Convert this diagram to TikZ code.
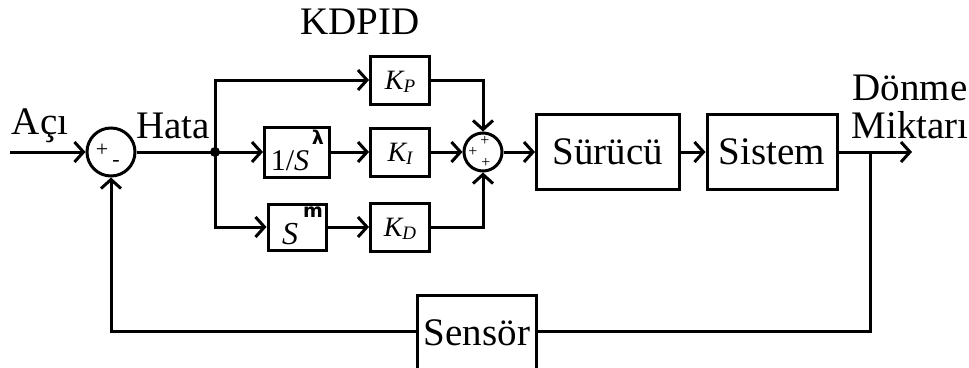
\documentclass[tikz,border=0pt]{standalone}
\usepackage{fontspec}
\setmainfont{Liberation Serif}
\newfontfamily\supfont{DejaVu Sans}
\usetikzlibrary{arrows.meta}
\begin{document}
\begin{tikzpicture}[x=1pt,y=-1pt,
  line width=3pt,
  arr/.style={-{Straight Barb[length=9pt,width=20pt,line width=3pt]}},
  blk/.style={draw,rectangle,inner sep=0pt,fill=white},
  sumc/.style={draw,circle,inner sep=0pt},
  big/.style={font=\fontsize{39}{42}\selectfont},
  kfont/.style={font=\fontsize{28}{30}\selectfont\itshape},
  sgn/.style={font=\fontsize{22}{22}\selectfont,inner sep=0pt},
  sgns/.style={font=\fontsize{16}{16}\selectfont,inner sep=0pt}
]
\useasboundingbox (0,0) rectangle (969,367);
% summing junction 1
\node[sumc,minimum size=48pt] (s1) at (111,152) {};
\node[sgn] (p1) at (102,150) {+};
\node[sgn] (m1) at (116,163) {-};
\coordinate (in) at (10,152);
\coordinate (j) at (215,152);
\coordinate (jt) at (215,80);
\coordinate (jb) at (215,227);
% blocks
\node[blk,minimum width=65pt,minimum height=50pt] (lam) at (297,152) {};
\node[font=\fontsize{30}{32}\selectfont] (lamt) at (290,161) {1/\textit{S}};
\node[font=\supfont\bfseries\fontsize{19}{20}\selectfont] (lams) at (318,137) {λ};
\node[blk,minimum width=58pt,minimum height=46pt] (sm) at (297,227) {};
\node[font=\fontsize{32}{34}\selectfont\itshape] (smt) at (290,234) {S};
\node[font=\supfont\bfseries\fontsize{19}{20}\selectfont] (sms) at (313,212) {m};
\node[blk,minimum width=59pt,minimum height=48pt] (kp) at (400,80) {};
\node[kfont] (kpt) at (400,82) {K\raisebox{-3pt}{\fontsize{19}{20}\selectfont P}};
\node[blk,minimum width=59pt,minimum height=48pt] (ki) at (400,152) {};
\node[kfont] (kit) at (400,154) {K\raisebox{-3pt}{\fontsize{19}{20}\selectfont I}};
\node[blk,minimum width=59pt,minimum height=48pt] (kd) at (400,227) {};
\node[kfont] (kdt) at (400,229) {K\raisebox{-3pt}{\fontsize{19}{20}\selectfont D}};
% summing junction 2
\node[sumc,minimum size=38pt] (s2) at (483,152) {};
\node[sgns] (p2a) at (485,141) {+};
\node[sgns] (p2b) at (473,152) {+};
\node[sgns] (p2c) at (486,163) {+};
\node[blk,big,minimum width=143pt,minimum height=75pt] (sur) at (608,152) {Sürücü};
\node[blk,big,minimum width=130pt,minimum height=75pt] (sis) at (772,152) {Sistem};
\node[blk,big,minimum width=119pt,minimum height=76pt] (sen) at (477,333) {Sensör};
\coordinate (out) at (912,152);
\coordinate (tap) at (870,152);
\coordinate (tapb) at (870,331);
\coordinate (fbl) at (111,331);
% labels
\node[big] (aci) at (40,126) {Açı};
\node[big] (hata) at (173,126) {Hata};
\node[big] (kdpid) at (360,22) {KDPID};
\node[big] (donme) at (910,88) {Dönme};
\node[big] (miktari) at (910,125) {Miktarı};
% connectors
\draw[arr] (in) -- (s1.west);
\draw (s1.east) -- (j);
\fill (j) circle (5pt);
\draw[arr] (j) -- (jt) -- (kp.west);
\draw[arr] (j) -- (lam.west);
\draw[arr] (j) -- (jb) -- (sm.west);
\draw[arr] (lam.east) -- (ki.west);
\draw[arr] (sm.east) -- (kd.west);
\draw[arr] (kp.east) -| (s2.north);
\draw[arr] (ki.east) -- (s2.west);
\draw[arr] (kd.east) -| (s2.south);
\draw[arr] (s2.east) -- (sur.west);
\draw[arr] (sur.east) -- (sis.west);
\draw[arr] (sis.east) -- (out);
\draw (tap) -- (tapb) -- (sen.east |- tapb);
\draw[arr] (sen.west |- fbl) -- (fbl) -- (s1.south);
\end{tikzpicture}
\end{document}
